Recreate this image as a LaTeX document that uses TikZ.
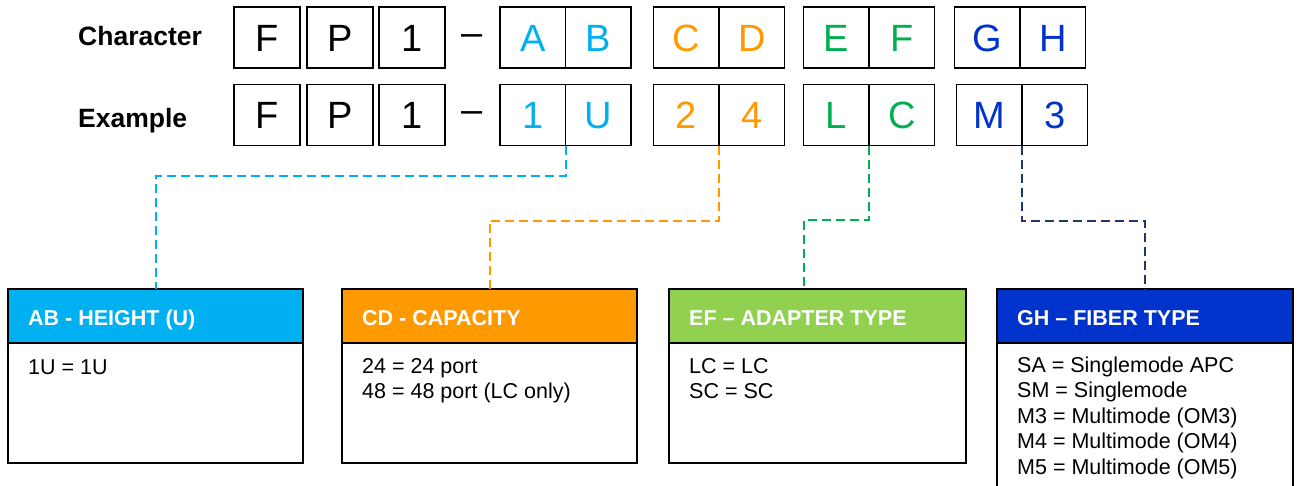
\documentclass[tikz,border=0pt]{standalone}
\usepackage{fontspec}
\setmainfont{Liberation Sans}
\definecolor{cyanC}{HTML}{00B0F0}
\definecolor{orangeC}{HTML}{FF9900}
\definecolor{greenT}{HTML}{00B050}
\definecolor{greenH}{HTML}{92D050}
\definecolor{blueC}{HTML}{0033CC}
\definecolor{navyL}{HTML}{1F3864}
\begin{document}
\begin{tikzpicture}[x=1pt,y=-1pt,
  lbl/.style={anchor=base west,inner sep=0pt,font=\fontsize{26.5}{30}\selectfont\bfseries},
  cellbase/.style={draw=black,line width=1.8pt,minimum height=61pt,inner sep=0pt,outer sep=0pt,
    text height=27pt,text depth=0pt,font=\fontsize{38}{40}\selectfont},
  scell/.style={cellbase,minimum width=66pt},
  pcell/.style={cellbase,minimum width=65.5pt},
  dashtxt/.style={anchor=base,inner sep=0pt,font=\fontsize{38}{40}\selectfont},
  headbox/.style={draw=black,line width=2pt,minimum height=54pt,inner sep=0pt,outer sep=0pt},
  bodybox/.style={draw=black,line width=2pt,fill=white,inner sep=0pt,outer sep=0pt},
  htext/.style={anchor=base west,inner sep=0pt,text=white,font=\fontsize{21.5}{24}\selectfont\bfseries},
  btext/.style={anchor=base west,inner sep=0pt,align=left,font=\fontsize{21.5}{25.5}\selectfont},
  conn/.style={line width=2pt,dash pattern=on 9pt off 5pt}
]
\clip (0,0) rectangle (1298,485);
\fill[white] (0,0) rectangle (1298,485);

% row labels
\node[lbl] (lChar) at (78,45) {Character};
\node[lbl] (lEx) at (78,127) {Example};

% top row
\node[scell] (cFx) at (267,37.5) {F};
\node[scell] (cPx) at (340,37.5) {P};
\node[scell] (cOne) at (412,37.5) {1};
\node[dashtxt] (cDash) at (472.5,45.3) {–};
\node[pcell,text=cyanC] (cA) at (532.75,37.5) {A};
\node[pcell,text=cyanC] (cB) at (598.25,37.5) {B};
\node[pcell,text=orangeC] (cC) at (686.25,37.5) {C};
\node[pcell,text=orangeC] (cD) at (751.75,37.5) {D};
\node[pcell,text=greenT] (cE) at (836.25,37.5) {E};
\node[pcell,text=greenT] (cF) at (901.75,37.5) {F};
\node[pcell,text=blueC] (cG) at (987.25,37.5) {G};
\node[pcell,text=blueC] (cH) at (1052.75,37.5) {H};

% bottom row
\node[scell] (eFx) at (267,115) {F};
\node[scell] (ePx) at (340,115) {P};
\node[scell] (eOne) at (412,115) {1};
\node[dashtxt] (eDash) at (472.5,122.3) {–};
\node[pcell,text=cyanC] (eA) at (532.75,115) {1};
\node[pcell,text=cyanC] (eB) at (598.25,115) {U};
\node[pcell,text=orangeC] (eC) at (686.25,115) {2};
\node[pcell,text=orangeC] (eD) at (751.75,115) {4};
\node[pcell,text=greenT] (eE) at (836.25,115) {L};
\node[pcell,text=greenT] (eF) at (901.75,115) {C};
\node[pcell,text=blueC] (eG) at (989.25,115) {M};
\node[pcell,text=blueC] (eH) at (1054.75,115) {3};

% bottom boxes
\node[bodybox,minimum width=295pt,minimum height=120pt] (bAB) at (155.5,403) {};
\node[headbox,fill=cyanC,minimum width=295pt] (hAB) at (155.5,316) {};
\node[bodybox,minimum width=295pt,minimum height=120pt] (bCD) at (489.5,403) {};
\node[headbox,fill=orangeC,minimum width=295pt] (hCD) at (489.5,316) {};
\node[bodybox,minimum width=297pt,minimum height=120pt] (bEF) at (817.5,403) {};
\node[headbox,fill=greenH,minimum width=297pt] (hEF) at (817.5,316) {};
\node[bodybox,minimum width=296pt,minimum height=170pt] (bGH) at (1145,428) {};
\node[headbox,fill=blueC,minimum width=296pt] (hGH) at (1145,316) {};

% header texts
\node[htext] (tAB) at (28,325) {AB - HEIGHT (U)};
\node[htext] (tCD) at (362,325) {CD - CAPACITY};
\node[htext] (tEF) at (689,325) {EF – ADAPTER TYPE};
\node[htext] (tGH) at (1017,325) {GH – FIBER TYPE};

% body texts (anchor at baseline of last line)
\node[btext] (dAB) at (28,374) {1U = 1U};
\node[btext] (dCD) at (362,398.5) {24 = 24 port\\48 = 48 port (LC only)};
\node[btext] (dEF) at (689,398.5) {LC = LC\\SC = SC};
\node[btext] (dGH) at (1017,474) {SA = Singlemode APC\\SM = Singlemode\\M3 = Multimode (OM3)\\M4 = Multimode (OM4)\\M5 = Multimode (OM5)};

% connectors
\draw[conn,draw=cyanC] (eA.south east) -- ++(0,30) -| (hAB.north);
\draw[conn,draw=orangeC] (eC.south east) -- ++(0,75) -| (hCD.north);
\draw[conn,draw=greenT] (eE.south east) -- ++(0,74) -| ([xshift=-13.5pt]hEF.north);
\draw[conn,draw=navyL] (eG.south east) -- ++(0,75) -| (hGH.north);
\end{tikzpicture}
\end{document}
